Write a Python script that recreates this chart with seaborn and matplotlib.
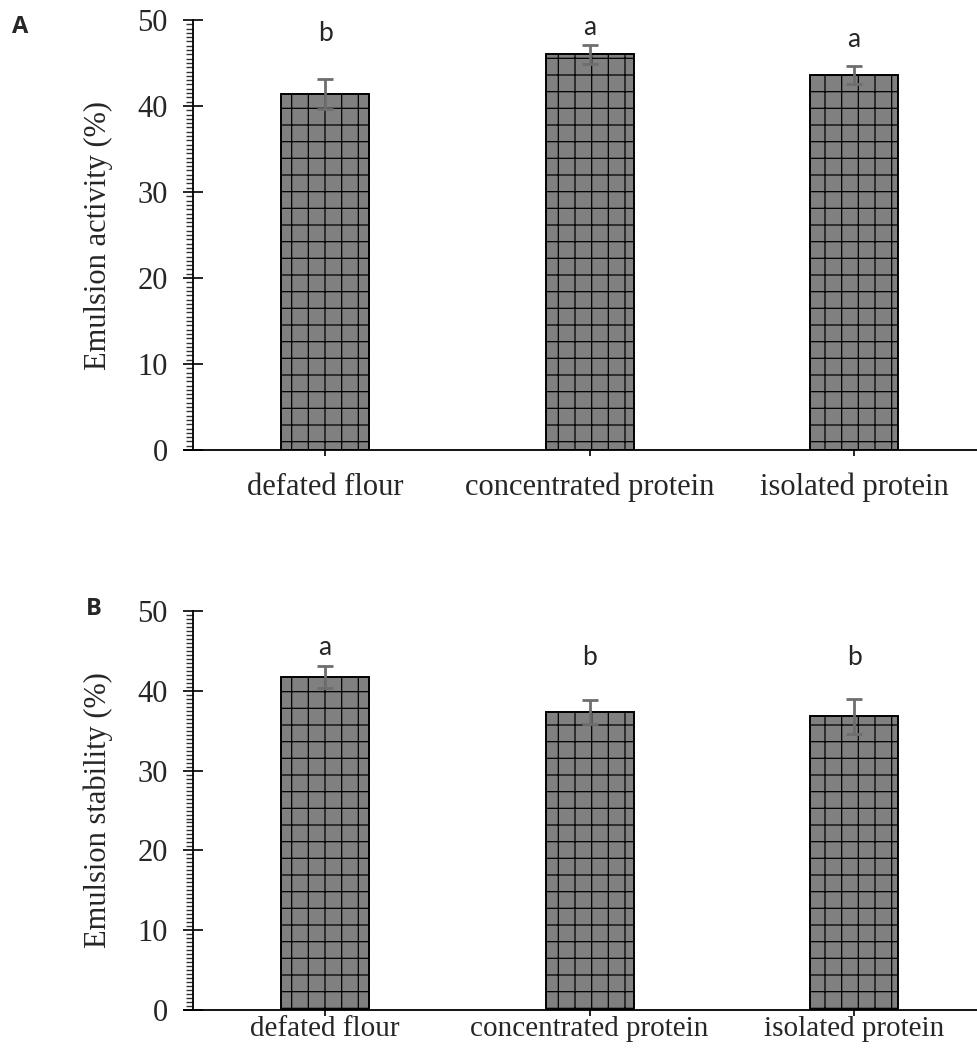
import matplotlib
matplotlib.use("Agg")
import matplotlib.pyplot as plt
from matplotlib.ticker import MultipleLocator
import seaborn as sns
import pandas as pd

categories = ["defated flour", "concentrated protein", "isolated protein"]
activity = [41.4, 46.0, 43.6]
activity_err = [1.7, 1.1, 1.0]
activity_letters = ["b", "a", "a"]
activity_letter_y = [47.0, 47.7, 46.3]
stability = [41.7, 37.3, 36.8]
stability_err = [1.4, 1.5, 2.2]
stability_letters = ["a", "b", "b"]
stability_letter_y = [43.9, 42.6, 42.6]

sns.set_style("white")
plt.rcParams["font.family"] = ["Liberation Serif", "DejaVu Serif"]
plt.rcParams["hatch.linewidth"] = 0.9
plt.rcParams["hatch.color"] = "#333333"

fig = plt.figure(figsize=(9.77, 10.51), dpi=100)
axA = fig.add_axes([0.1975, 0.5718, 0.8025, 0.4092])
axB = fig.add_axes([0.1975, 0.0390, 0.8025, 0.3796])


def panel(ax, values, errs, letters, letter_y, ylabel, tag, tag_xy, xpad, xsize):
    df = pd.DataFrame({"cat": categories, "val": values})
    sns.barplot(data=df, x="cat", y="val", ax=ax, errorbar=None,
                color="#808080", width=0.333, saturation=1,
                edgecolor="black", linewidth=1.4)
    for p in ax.patches:
        p.set_hatch("+")
        p.set_facecolor("#808080")
    xs = list(range(len(categories)))
    ax.errorbar(xs, values, yerr=errs, fmt="none", ecolor="#6e6e6e",
                elinewidth=2, capsize=6.1, capthick=2, zorder=5)
    for x, lab, ly in zip(xs, letters, letter_y):
        ax.text(x, ly, lab, ha="center", va="bottom", fontsize=19,
                family=["Lato", "DejaVu Sans"])
    ax.set_ylim(0, 50)
    ax.set_xlim(-0.5, 2.465)
    ax.yaxis.set_major_locator(MultipleLocator(10))
    ax.yaxis.set_minor_locator(MultipleLocator(0.5))
    ax.tick_params(axis="y", which="major", direction="inout", length=14,
                   width=1.2, color="black", labelsize=22, pad=11, left=True)
    ax.tick_params(axis="y", which="minor", direction="out", length=5,
                   width=1, color="#333333", left=True)
    ax.tick_params(axis="x", which="major", direction="out", length=4.5,
                   width=1.2, color="black", labelsize=xsize, pad=xpad, bottom=True)
    ax.set_xlabel("")
    ax.set_ylabel(ylabel, fontsize=22, labelpad=18)
    for s in ["top", "right"]:
        ax.spines[s].set_visible(False)
    for s in ["left", "bottom"]:
        ax.spines[s].set_color("black")
        ax.spines[s].set_linewidth(1.3)
    ax.spines["bottom"].set_bounds(-0.535, 2.465)
    fig.text(tag_xy[0], tag_xy[1], tag, fontsize=17, fontweight="bold",
             family=["Open Sans", "DejaVu Sans"], ha="left", va="center")


panel(axA, activity, activity_err, activity_letters, activity_letter_y,
      "Emulsion activity (%)", "A", (0.012, 0.974), 12, 22)
panel(axB, stability, stability_err, stability_letters, stability_letter_y,
      "Emulsion stability (%)", "B", (0.088, 0.421), 0.0, 21)

fig.savefig("out.png", dpi=100)
